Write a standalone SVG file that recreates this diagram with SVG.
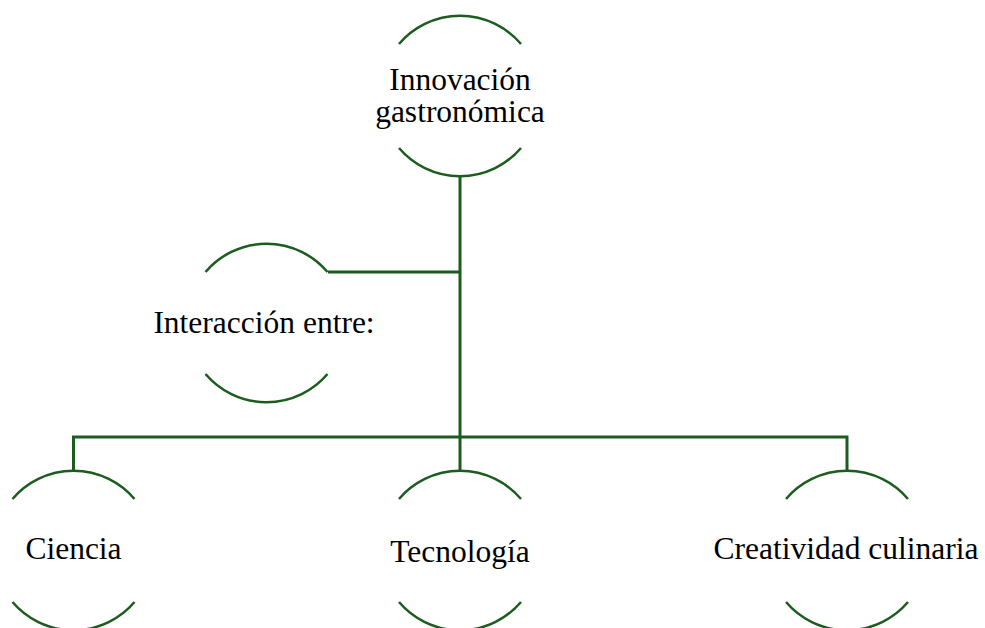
<svg xmlns="http://www.w3.org/2000/svg" width="985" height="628" viewBox="0 0 985 628">
<style>
.arc{fill:none;stroke:#1c5c1e;stroke-width:2.5}
.conn{fill:none;stroke:#1c5c1e;stroke-width:3}
text{font-family:'Liberation Serif',Tinos,'Times New Roman','DejaVu Serif',serif;font-size:31.5px;fill:#000;text-anchor:middle}
</style>
<rect width="985" height="628" fill="#fff"/>
<g id="connectors">
<path class="conn" d="M460 176 V437"/>
<path class="conn" d="M460 272 H328"/>
<path class="conn" d="M73.5 470 V437 H847 V470"/>
<path class="conn" d="M460 437 V470"/>
</g>
<g id="node-innovacion">
<path class="arc" d="M399 44 A80 80 0 0 1 521 44"/>
<path class="arc" d="M399 148 A80 80 0 0 0 521 148"/>
<text x="460" y="89.5" font-family="Liberation Serif, serif">Innovación</text>
<text x="460" y="121.5" font-family="Liberation Serif, serif">gastronómica</text>
</g>
<g id="node-interaccion">
<path class="arc" d="M205.5 272 A80 80 0 0 1 327.5 272"/>
<path class="arc" d="M205.5 374 A80 80 0 0 0 327.5 374"/>
<text x="264" y="332.5" font-family="Liberation Serif, serif">Interacción entre:</text>
</g>
<g id="node-ciencia">
<path class="arc" d="M12.5 499 A80 80 0 0 1 134.5 499"/>
<path class="arc" d="M12.5 602 A80 80 0 0 0 134.5 602"/>
<text x="73.5" y="559" font-family="Liberation Serif, serif">Ciencia</text>
</g>
<g id="node-tecnologia">
<path class="arc" d="M399 499 A80 80 0 0 1 521 499"/>
<path class="arc" d="M399 602 A80 80 0 0 0 521 602"/>
<text x="460" y="561.5" font-family="Liberation Serif, serif">Tecnología</text>
</g>
<g id="node-creatividad">
<path class="arc" d="M786 499 A80 80 0 0 1 908 499"/>
<path class="arc" d="M786 602 A80 80 0 0 0 908 602"/>
<text x="846" y="559" font-family="Liberation Serif, serif">Creatividad culinaria</text>
</g>
</svg>
